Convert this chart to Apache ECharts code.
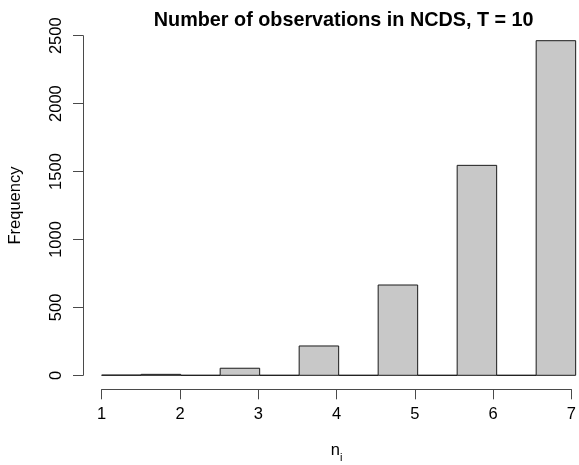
<!DOCTYPE html>
<html>
<head>
<meta charset="utf-8">
<script src="https://cdn.jsdelivr.net/npm/echarts@6/dist/echarts.min.js"></script>
<style>
  html, body { margin: 0; padding: 0; background: #fff; }
  #chart { width: 579px; height: 465px; }
</style>
</head>
<body>
<div id="chart"></div>
<script>
// Histogram bins (lower and upper break) and their counts
var binStart = [1, 1.5, 2, 2.5, 3, 3.5, 4, 4.5, 5, 5.5, 6, 6.5];
var binEnd   = [1.5, 2, 2.5, 3, 3.5, 4, 4.5, 5, 5.5, 6, 6.5, 7];
var counts   = [2, 7, 0, 52, 0, 216, 0, 665, 0, 1546, 0, 2464];

// Axis tick labels
var xTicks = [1, 2, 3, 4, 5, 6, 7];
var yTicks = [0, 500, 1000, 1500, 2000, 2500];

var FONT = '"Liberation Sans", Arial, Helvetica, sans-serif';
var AXIS_COL = '#4a4a4a';
var BASE = 16.5;

var bins = binStart.map(function (s, i) { return [s, binEnd[i], counts[i]]; });

var chart = echarts.init(document.getElementById('chart'), null, { renderer: 'canvas' });

chart.setOption({
  animation: false,
  backgroundColor: '#ffffff',
  title: {
    text: 'Number of observations in NCDS, T = 10',
    left: 338.7,
    textAlign: 'center',
    top: 6,
    textStyle: { fontFamily: FONT, fontWeight: 'bold', fontSize: 19.8, color: '#000' }
  },
  grid: [
    // plotting region; the right part runs past the canvas edge
    { left: 82.7, top: 27.3, width: 496.3, height: 361.4, show: false },
    // frame for the left axis (0..2500)
    { left: 83, top: 35.7, width: 10, height: 339.6, show: false },
    // frame for the bottom axis (1..7)
    { left: 101.7, top: 388.3, width: 474, height: 1, show: false }
  ],
  xAxis: [
    { gridIndex: 0, type: 'value', min: 0.76, max: 7.0423, show: false },
    { gridIndex: 1, type: 'value', min: 0, max: 1, show: false },
    {
      gridIndex: 2, type: 'value', min: xTicks[0], max: xTicks[xTicks.length - 1], interval: 1,
      position: 'bottom',
      axisLine: { show: true, lineStyle: { color: AXIS_COL, width: 1 } },
      axisTick: { show: true, length: 10, inside: false, lineStyle: { color: AXIS_COL, width: 1 } },
      axisLabel: { show: true, margin: 17, fontFamily: FONT, fontSize: BASE, color: '#000',
                   showMinLabel: true, showMaxLabel: true,
                   formatter: function (v) { return String(v); } },
      splitLine: { show: false },
      name: '{n|n}{i|i}',
      nameLocation: 'middle',
      nameGap: 52,
      nameTextStyle: {
        rich: {
          n: { fontFamily: FONT, fontSize: BASE, color: '#000', verticalAlign: 'bottom', lineHeight: 18 },
          i: { fontFamily: FONT, fontSize: 11, color: '#000', verticalAlign: 'bottom', lineHeight: 11, padding: [0, 0, -4, 0] }
        }
      }
    }
  ],
  yAxis: [
    { gridIndex: 0, type: 'value', min: -98.6, max: 2562.6, show: false },
    {
      gridIndex: 1, type: 'value', min: yTicks[0], max: yTicks[yTicks.length - 1], interval: 500,
      position: 'left',
      axisLine: { show: true, lineStyle: { color: AXIS_COL, width: 1 } },
      axisTick: { show: true, length: 10, inside: false, lineStyle: { color: AXIS_COL, width: 1 } },
      axisLabel: { show: true, rotate: 90, margin: 18, fontFamily: FONT, fontSize: BASE, color: '#000',
                   showMinLabel: true, showMaxLabel: true,
                   formatter: function (v) { return String(v); } },
      splitLine: { show: false },
      name: 'Frequency',
      nameLocation: 'middle',
      nameGap: 59,
      nameRotate: 90,
      nameTextStyle: { fontFamily: FONT, fontSize: BASE, color: '#000' }
    },
    { gridIndex: 2, type: 'value', min: 0, max: 1, show: false }
  ],
  series: [
    {
      type: 'custom',
      xAxisIndex: 0,
      yAxisIndex: 0,
      data: bins,
      renderItem: function (params, api) {
        var p0 = api.coord([api.value(0), api.value(2)]);
        var p1 = api.coord([api.value(1), 0]);
        return {
          type: 'rect',
          shape: { x: p0[0], y: p0[1], width: p1[0] - p0[0], height: p1[1] - p0[1] },
          style: { fill: '#c8c8c8', stroke: '#1a1a1a', lineWidth: 1 }
        };
      }
    }
  ]
});
</script>
</body>
</html>
